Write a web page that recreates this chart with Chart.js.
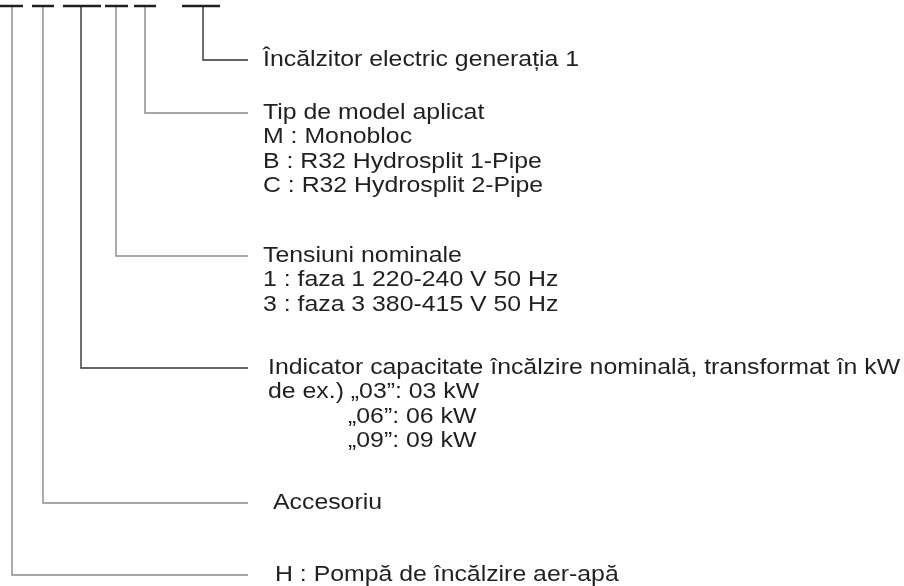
<!DOCTYPE html>
<html>
<head>
<meta charset="utf-8">
<script src="https://cdn.jsdelivr.net/npm/chart.js@4.4.1/dist/chart.umd.min.js"></script>
<style>
  html, body { margin: 0; padding: 0; background: #fff; }
  #wrap { width: 904px; height: 586px; position: relative; }
</style>
</head>
<body>
<div id="wrap"><canvas id="codeChart"></canvas></div>
<script>
// Code segments along the top (start, end)
const segStart = [0, 32, 63, 105, 134, 182];
const segEnd = [23, 54, 101, 128, 156, 220];
const segY = 6;

// Stem of each segment and the height where it turns right
const stemX = [12, 43, 81, 116, 145, 203];
const branchY = [575, 503, 368, 256, 113, 60];
const branchEnd = 248;
const stemColors = ['#8a8a8a', '#8a8a8a', '#333333', '#8a8a8a', '#8a8a8a', '#333333'];

// Description text per branch
const labelX = [275, 273, 268, 263, 263, 263];
const labelLines = [
    ['H : Pompă de încălzire aer-apă'],
    ['Accesoriu'],
    ['Indicator capacitate încălzire nominală, transformat în kW', 'de ex.) „03”: 03 kW', '„06”: 06 kW', '„09”: 09 kW'],
    ['Tensiuni nominale', '1 : faza 1 220-240 V 50 Hz', '3 : faza 3 380-415 V 50 Hz'],
    ['Tip de model aplicat', 'M : Monobloc', 'B : R32 Hydrosplit 1-Pipe', 'C : R32 Hydrosplit 2-Pipe'],
    ['Încălzitor electric generația 1']
];
const lineIndent = { '„06”: 06 kW': 348, '„09”: 09 kW': 348 };
const lineGap = 24.3;

const datasets = [];

segStart.forEach((s, i) => {
    datasets.push({
        data: [{ x: s, y: segY }, { x: segEnd[i], y: segY }],
        borderColor: '#231f20',
        borderWidth: 2.5
    });
});

stemX.forEach((x, i) => {
    datasets.push({
        data: [{ x: x, y: segY }, { x: x, y: branchY[i] }, { x: branchEnd, y: branchY[i] }],
        borderColor: stemColors[i],
        borderWidth: 1.4
    });
});

// the source lettering is a bit wider than Liberation Sans, so stretch it a little
const labelPlugin = {
    id: 'labels',
    afterDatasetsDraw(chart) {
        const ctx = chart.ctx;
        const xs = chart.scales.x;
        const ys = chart.scales.y;
        labelLines.forEach((lines, i) => {
            lines.forEach((txt, j) => {
                const x = lineIndent[txt] || labelX[i];
                ctx.save();
                ctx.translate(xs.getPixelForValue(x), ys.getPixelForValue(branchY[i] + j * lineGap));
                ctx.scale(1.155, 1);
                ctx.fillStyle = '#231f20';
                ctx.font = '21.5px "Liberation Sans", Arial, sans-serif';
                ctx.textBaseline = 'middle';
                ctx.fillText(txt, 0, 0);
                ctx.restore();
            });
        });
    }
};

new Chart(document.getElementById('codeChart'), {
    type: 'line',
    data: { datasets: datasets },
    options: {
        responsive: true,
        maintainAspectRatio: false,
        animation: false,
        layout: { padding: 0 },
        elements: { point: { radius: 0, hoverRadius: 0 }, line: { tension: 0, borderCapStyle: 'butt' } },
        plugins: { legend: { display: false }, tooltip: { enabled: false } },
        events: [],
        scales: {
            x: { type: 'linear', min: 0, max: 904, display: false },
            y: { type: 'linear', min: 0, max: 586, reverse: true, display: false }
        }
    },
    plugins: [labelPlugin]
});
</script>
</body>
</html>
